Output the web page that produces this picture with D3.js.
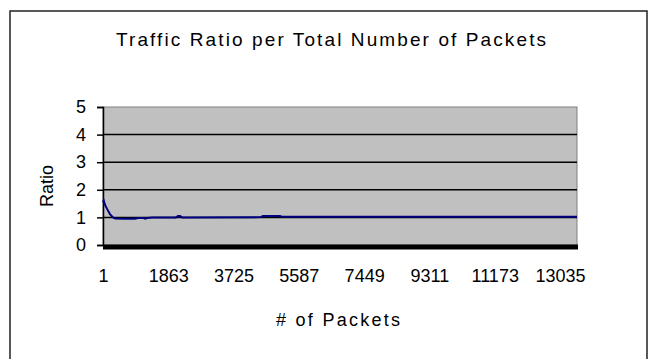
<!DOCTYPE html>
<html lang="en">
<head>
<meta charset="utf-8">
<script src="https://cdn.jsdelivr.net/npm/d3@7"></script>
<style>
  body { margin: 0; background: #fff; }
  svg text { font-family: "Liberation Sans", Arial, sans-serif; fill: #000; }
</style>
</head>
<body>
<script>
// packet index (x) and traffic ratio (y)
const packets = [1, 20, 60, 120, 200, 285, 350, 600, 913, 1000, 1150, 1200, 1260, 1400, 1700, 2080, 2140, 2200, 2260, 4500, 4560, 5050, 5120, 8000, 13520];
const ratios  = [1.55, 1.62, 1.45, 1.3, 1.12, 1.0, 0.96, 0.95, 0.95, 0.98, 0.98, 0.95, 0.98, 1.0, 1.0, 1.0, 1.05, 1.05, 1.0, 1.01, 1.05, 1.05, 1.02, 1.02, 1.02];

const xTicks = [1, 1863, 3725, 5587, 7449, 9311, 11173, 13035];
const yTicks = [0, 1, 2, 3, 4, 5];

const W = 649, H = 359;
const plot = {left: 103, right: 577, top: 107, bottom: 245};

const svg = d3.select("body").append("svg")
    .attr("width", W)
    .attr("height", H);

// outer chart frame
svg.append("rect")
    .attr("x", 10).attr("y", 11)
    .attr("width", 637).attr("height", 360)
    .attr("fill", "#fff")
    .attr("stroke", "#222")
    .attr("stroke-width", 1.5);

var x = d3.scaleLinear()
    .domain([1, 13520])
    .range([plot.left, plot.right]);

var y = d3.scaleLinear()
    .domain([0, 5])
    .range([plot.bottom, plot.top]);

// plot area
svg.append("rect")
    .attr("x", plot.left).attr("y", plot.top)
    .attr("width", plot.right - plot.left)
    .attr("height", plot.bottom - plot.top)
    .attr("fill", "#c0c0c0")
    .attr("stroke", "#808080")
    .attr("stroke-width", 1);

// gridlines
svg.append("g").selectAll("line")
    .data(yTicks.filter(d => d > 0 && d < 5))
    .enter().append("line")
    .attr("x1", plot.left).attr("x2", plot.right)
    .attr("y1", d => y(d)).attr("y2", d => y(d))
    .attr("stroke", "#000")
    .attr("stroke-width", 1.5);

// y axis
const yAxis = svg.append("g")
    .attr("transform", "translate(" + plot.left + ",0)")
    .call(d3.axisLeft(y).tickValues(yTicks).tickSize(6).tickPadding(11).tickFormat(d3.format("d")));
yAxis.select(".domain").attr("stroke", "#000").attr("stroke-width", 1.5);
yAxis.selectAll(".tick line").attr("stroke", "#000").attr("stroke-width", 1.5);
yAxis.selectAll("text")
    .style("font-size", "18px")
    .style("font-family", "Liberation Sans, Arial, sans-serif");

// x axis labels (no visible tick marks)
const xAxis = svg.append("g")
    .attr("transform", "translate(0," + plot.bottom + ")")
    .call(d3.axisBottom(x).tickValues(xTicks).tickSize(0).tickPadding(24).tickFormat(d3.format("d")));
xAxis.select(".domain").remove();
xAxis.selectAll("text")
    .style("font-size", "18px")
    .style("font-family", "Liberation Sans, Arial, sans-serif");

// thick black floor
svg.append("rect")
    .attr("x", plot.left)
    .attr("y", y(0) - 0.5)
    .attr("width", plot.right - plot.left + 1)
    .attr("height", 5)
    .attr("fill", "#000");

// series line
const series = packets.map((p, i) => ({p: p, r: ratios[i]}));
svg.append("path")
    .datum(series)
    .attr("fill", "none")
    .attr("stroke", "#000080")
    .attr("stroke-width", 2)
    .attr("d", d3.line().x(d => x(d.p)).y(d => y(d.r)));

// title
svg.append("text")
    .attr("x", 331).attr("y", 46)
    .attr("text-anchor", "middle")
    .attr("textLength", 430)
    .attr("lengthAdjust", "spacing")
    .style("font-size", "19px")
    .text("Traffic Ratio per Total Number of Packets");

// axis titles
svg.append("text")
    .attr("transform", "translate(53," + ((plot.top + plot.bottom) / 2 + 10) + ") rotate(-90)")
    .attr("text-anchor", "middle")
    .style("font-size", "18px")
    .text("Ratio");

svg.append("text")
    .attr("x", 338).attr("y", 326)
    .attr("text-anchor", "middle")
    .attr("textLength", 124)
    .attr("lengthAdjust", "spacing")
    .style("font-size", "18px")
    .text("# of Packets");
</script>
</body>
</html>
